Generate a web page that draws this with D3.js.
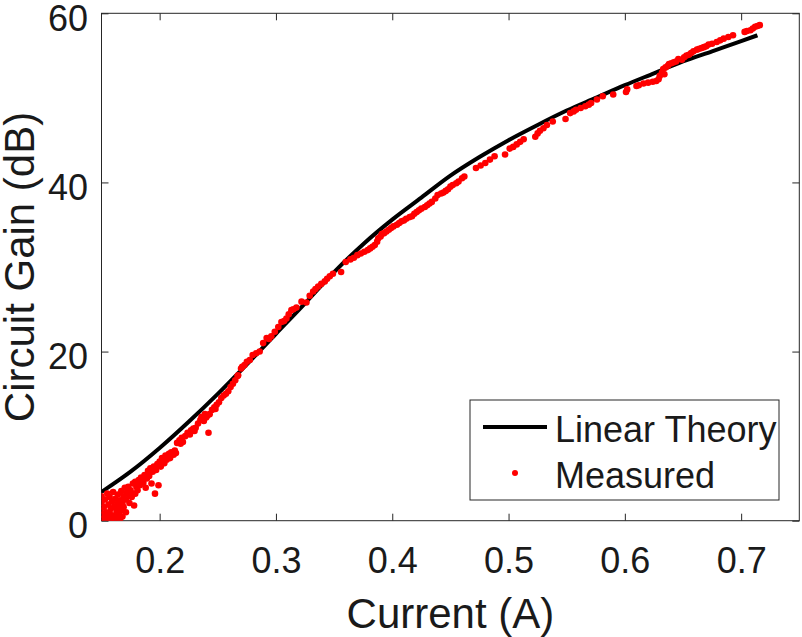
<!DOCTYPE html>
<html>
<head>
<meta charset="utf-8">
<script src="https://cdn.jsdelivr.net/npm/d3@7"></script>
<style>
  html, body { margin: 0; padding: 0; background: #fff; }
  svg { display: block; }
  text { font-family: "Liberation Sans", Arial, Helvetica, sans-serif; fill: #1a1a1a; }
</style>
</head>
<body>
<svg id="chart" width="802" height="637"></svg>
<script>
// ---- data ----
const xTicks = [0.2, 0.3, 0.4, 0.5, 0.6, 0.7];
const yTicks = [0, 20, 40, 60];
const xLabel = "Current (A)";
const yLabel = "Circuit Gain (dB)";
const seriesNames = ["Linear Theory", "Measured"];

const theoryX = [0.15, 0.175, 0.2, 0.225, 0.25, 0.275, 0.3, 0.325, 0.35, 0.375, 0.4, 0.425, 0.45, 0.475, 0.5, 0.525, 0.55, 0.575, 0.6, 0.625, 0.65, 0.675, 0.7, 0.714];
const theoryY = [3.4, 5.8, 8.6, 11.7, 15.0, 18.5, 22.1, 25.7, 29.4, 32.7, 35.6, 38.2, 40.8, 43.0, 45.0, 46.8, 48.5, 50.0, 51.5, 52.9, 54.3, 55.5, 56.7, 57.4];

const measuredX = [
  0.149,0.149,0.150,0.150,0.151,0.152,0.153,0.153,0.154,0.155,0.155,0.156,0.157,0.157,0.158,0.158,0.159,0.160,0.160,0.161,
  0.161,0.162,0.163,0.163,0.164,0.164,0.165,0.165,0.166,0.166,0.167,0.167,0.168,0.168,0.169,0.169,0.170,0.171,0.171,0.172,
  0.173,0.174,0.175,0.176,0.177,0.178,0.179,0.180,0.181,0.182,0.183,0.184,0.186,0.187,0.188,0.189,0.190,0.191,0.192,0.193,
  0.194,0.195,0.196,0.197,0.198,0.199,0.185,0.179,0.174,
  0.200,0.201,0.202,0.204,0.205,0.206,0.208,0.209,0.210,0.212,0.213,0.214,0.203,0.207,
  0.215,0.217,0.219,0.220,0.222,0.224,0.226,0.227,0.229,0.231,0.233,0.242,0.218,0.225,0.230,
  0.235,0.236,0.238,0.239,0.241,0.243,0.245,0.247,0.249,0.251,0.253,0.255,0.257,0.259,0.261,0.263,0.265,0.267,0.240,0.248,
  0.2675,0.270,0.271,0.273,0.275,0.2775,0.280,0.283,0.286,0.289,0.292,0.294,0.296,0.299,0.302,0.3047,0.307,0.309,0.311,0.3133,
  0.315,0.3176,0.322,0.3262,0.329,0.332,0.334,0.3363,0.339,0.342,0.344,0.3463,0.349,
  0.356,0.360,0.364,0.367,0.370,0.373,0.376,0.379,0.381,0.383,0.385,0.387,0.388,0.390,0.391,0.393,0.395,0.397,0.399,0.401,
  0.404,0.406,0.408,0.410,0.412,0.415,0.417,0.419,0.421,0.423,0.425,0.428,0.430,0.432,0.434,0.437,0.439,0.442,0.444,0.446,
  0.448,0.450,0.452,0.455,0.457,0.460,0.462,0.472,0.476,0.480,0.484,0.488,
  0.497,0.501,0.504,0.507,0.510,0.513,0.523,0.525,0.527,0.530,0.533,0.538,0.549,0.553,0.556,0.558,0.562,0.566,0.569,0.571,
  0.576,0.581,0.590,0.601,0.602,0.610,0.612,0.616,0.620,0.624,0.627,0.629,0.630,0.632,0.633,0.634,0.635,0.637,0.638,0.640,
  0.642,0.644,0.646,0.649,0.651,0.653,0.655,0.657,0.659,0.662,0.664,0.666,0.668,0.670,0.672,0.675,0.679,0.682,0.685,0.689,
  0.693,0.703,0.705,0.708,0.710,0.712,0.714,0.716
];
const measuredY = [
  0.2,1.2,2.1,2.9,0.7,1.6,0.1,2.5,1.0,3.2,0.4,1.9,2.8,0.9,0.1,1.4,2.3,0.6,3.4,1.7,
  0.2,2.6,1.1,0.4,2.0,3.1,0.8,1.5,2.4,0.2,3.5,1.2,2.1,0.5,2.9,1.6,3.9,2.5,1.0,3.3,
  4.0,2.1,3.6,2.8,4.4,1.8,3.2,4.0,3.6,4.8,4.2,5.1,4.5,5.4,3.9,5.0,5.9,5.3,6.2,4.4,
  5.8,6.4,3.2,6.0,6.7,4.2,5.0,4.6,3.0,
  7.0,6.4,7.4,6.8,7.7,7.2,7.9,7.4,8.1,7.8,8.3,8.0,7.1,7.6,
  9.2,9.5,9.8,9.3,10.0,10.4,10.2,10.7,10.9,11.0,11.5,10.4,9.1,10.3,10.6,
  11.9,12.3,11.8,12.6,12.4,12.6,13.1,13.4,13.7,14.0,14.5,14.8,15.0,15.3,15.8,16.2,16.6,17.1,12.2,13.2,
  17.2,18.0,18.2,18.4,18.8,19.0,19.6,19.8,20.0,21.0,21.6,21.5,21.8,22.35,22.9,23.5,23.6,23.9,24.4,24.9,
  25.0,25.2,25.9,25.8,26.6,27.1,27.4,27.7,28.0,28.3,28.6,28.9,29.2,
  29.4,30.6,30.9,31.1,31.4,31.6,31.8,32.0,32.2,32.4,32.6,33.0,33.4,33.6,33.9,34.0,34.2,34.4,34.6,34.8,
  35.0,35.2,35.4,35.5,35.7,35.9,36.0,36.3,36.5,36.7,36.9,37.1,37.3,37.5,37.7,38.1,38.5,38.7,38.8,39.0,
  39.2,39.5,39.7,39.9,40.1,40.5,40.7,41.7,42.0,42.3,42.7,43.1,
  43.3,44.0,44.2,44.5,44.8,45.1,45.4,45.8,46.1,46.4,46.8,47.2,47.5,48.2,48.4,48.6,48.8,49.0,49.2,49.4,
  49.8,50.2,50.4,50.7,51.0,51.4,51.5,51.7,51.8,51.9,52.0,52.2,52.6,53.0,53.4,52.8,53.6,53.8,54.0,54.1,
  54.2,54.3,54.6,54.5,54.8,55.0,55.1,55.3,55.5,55.7,55.8,55.9,56.0,56.1,56.3,56.4,56.6,56.8,57.0,57.2,
  57.4,57.8,57.9,58.0,58.2,58.4,58.5,58.6
];

// ---- layout ----
const svg = d3.select("#chart");
const L = 101.5, R = 799.3, T = 13.3, B = 520.7;
const x = d3.scaleLinear().domain([0.15, 0.75]).range([L, R]);
const y = d3.scaleLinear().domain([0, 60]).range([B, T]);
const axisColor = "#262626";
const tickFont = 36;
const labelFont = 42;

svg.append("defs").append("clipPath").attr("id", "plotClip")
  .append("rect").attr("x", L).attr("y", T).attr("width", R - L).attr("height", B - T);

// axes box
svg.append("rect").attr("x", L).attr("y", T).attr("width", R - L).attr("height", B - T)
  .attr("fill", "#fff").attr("stroke", axisColor).attr("stroke-width", 1);

function styleAxis(g) {
  g.select(".domain").remove();
  g.selectAll(".tick line").attr("stroke", axisColor).attr("stroke-width", 1);
  g.selectAll("text").attr("font-size", tickFont).attr("fill", "#1a1a1a")
    .attr("font-family", '"Liberation Sans", Arial, Helvetica, sans-serif');
}

const gB = svg.append("g").attr("transform", `translate(0,${B})`)
  .call(d3.axisBottom(x).tickValues(xTicks).tickSize(-7).tickFormat(d3.format(".1f")));
styleAxis(gB);
gB.selectAll("text").attr("y", 52.6).attr("dy", 0);

const gT = svg.append("g").attr("transform", `translate(0,${T})`)
  .call(d3.axisTop(x).tickValues(xTicks).tickSize(-7).tickFormat(""));
styleAxis(gT);

const gL = svg.append("g").attr("transform", `translate(${L},0)`)
  .call(d3.axisLeft(y).tickValues(yTicks).tickSize(-7).tickFormat(d3.format("d")));
styleAxis(gL);
gL.selectAll("text").attr("x", -13.4).attr("dy", 0).attr("y", 16.7);

const gR = svg.append("g").attr("transform", `translate(${R},0)`)
  .call(d3.axisRight(y).tickValues(yTicks).tickSize(-7).tickFormat(""));
styleAxis(gR);

// data
const plot = svg.append("g").attr("clip-path", "url(#plotClip)");
const theory = theoryX.map((v, i) => [v, theoryY[i]]);
plot.append("path").datum(theory)
  .attr("fill", "none").attr("stroke", "#000").attr("stroke-width", 4)
  .attr("stroke-linejoin", "round")
  .attr("d", d3.line().x(d => x(d[0])).y(d => y(d[1])).curve(d3.curveMonotoneX));

const measured = measuredX.map((v, i) => [v, measuredY[i]]);
plot.selectAll("circle.m").data(measured).join("circle").attr("class", "m")
  .attr("cx", d => x(d[0])).attr("cy", d => y(d[1])).attr("r", 3.3).attr("fill", "#ff0000");

// axis labels
svg.append("text").attr("x", (L + R) / 2).attr("y", 628).attr("text-anchor", "middle")
  .attr("font-size", labelFont).text(xLabel);
svg.append("text").attr("transform", `translate(34,${(T + B) / 2}) rotate(-90)`)
  .attr("text-anchor", "middle").attr("font-size", labelFont).text(yLabel);

// legend
const lg = svg.append("g");
lg.append("rect").attr("x", 470).attr("y", 400).attr("width", 309).attr("height", 100)
  .attr("fill", "#fff").attr("stroke", axisColor).attr("stroke-width", 1);
lg.append("line").attr("x1", 483).attr("x2", 547).attr("y1", 427).attr("y2", 427)
  .attr("stroke", "#000").attr("stroke-width", 4);
lg.append("text").attr("x", 555).attr("y", 441.7).attr("font-size", tickFont).text(seriesNames[0]);
lg.append("circle").attr("cx", 515).attr("cy", 473).attr("r", 3).attr("fill", "#ff0000");
lg.append("text").attr("x", 555).attr("y", 488.3).attr("font-size", tickFont).text(seriesNames[1]);
</script>
</body>
</html>
